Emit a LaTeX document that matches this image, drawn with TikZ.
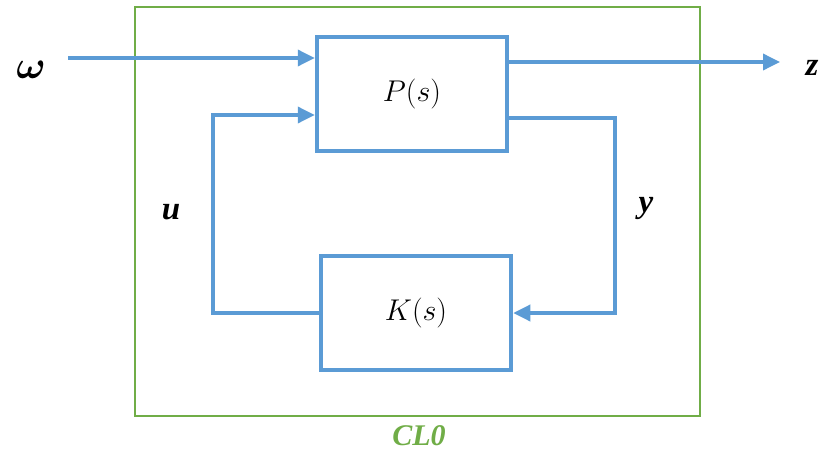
\RequirePackage{fix-cm}
\documentclass[tikz,border=0pt]{standalone}
\usepackage{amsmath,bm}
\usepackage{fontspec}
\setmainfont{Liberation Serif}
\usetikzlibrary{arrows.meta}
\definecolor{lineblue}{HTML}{5B9BD5}
\definecolor{framegreen}{HTML}{70AD47}
\tikzset{
  blockbox/.style={draw=lineblue, line width=4.5pt, minimum width=190pt, minimum height=114pt, inner sep=0pt, font=\fontsize{30}{34}\selectfont},
  signal/.style={draw=lineblue, line width=3.5pt, -{Triangle[length=17pt,width=16pt]}},
  siglabel/.style={font=\fontsize{33}{36}\selectfont\bfseries\itshape}
}
\begin{document}
\begin{tikzpicture}[x=1pt,y=-1pt]
  \useasboundingbox (0,0) rectangle (821,452);
  % closed-loop frame
  \draw[framegreen, line width=2.8pt] (135,7) rectangle (700,416);
  \node[font=\fontsize{30}{33}\selectfont\bfseries\itshape, text=framegreen, inner sep=0pt, anchor=base] (cl) at (419,445) {CL0};
  % plant and controller
  \node[blockbox] (P) at (412,94) {$P(s)$};
  \node[blockbox] (K) at (416,313) {$K(s)$};
  % exogenous input and performance output
  \node[font=\fontsize{39}{42}\selectfont] (w) at (31,70) {$\bm{\omega}$};
  \coordinate (win) at (68,58);
  \draw[signal] (win) -- (P.west |- win);
  \coordinate (zout) at (780,62);
  \node[siglabel] (z) at (812,68) {z};
  \draw[signal] (P.east |- zout) -- (zout);
  % control input loop
  \coordinate (ucorner) at (213,115);
  \draw[signal] (K.west) -| (ucorner) -- (P.west |- ucorner);
  \node[siglabel] (u) at (171,212) {u};
  % measurement loop
  \coordinate (ycorner) at (615,118);
  \draw[signal] (P.east |- ycorner) -- (ycorner) |- (K.east);
  \node[siglabel] (y) at (646,208) {y};
\end{tikzpicture}
\end{document}
